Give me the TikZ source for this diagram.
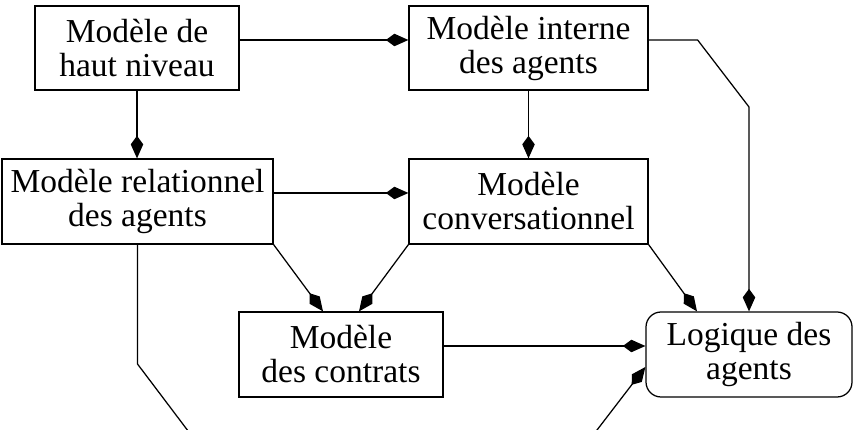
\documentclass[tikz,border=0pt]{standalone}
\usepackage{fontspec}
\setmainfont{Liberation Serif}
\usetikzlibrary{arrows.meta}
\begin{document}
\begin{tikzpicture}[x=0.4pt,y=-0.4pt,
  box/.style={draw, line width=0.5pt, align=center, inner sep=0pt,
    minimum height=34pt, font=\fontsize{13.4}{13.6}\selectfont},
  conn/.style={line width=0.5pt, -{Kite[length=9pt,width=5pt,inset=3.4pt]}}]
\useasboundingbox (0,0) rectangle (857,430);
\node[box, minimum width=81.6pt, minimum height=33.6pt] (haut) at (137,48) {Modèle de\\haut niveau};
\node[box, minimum width=95.6pt, minimum height=33.6pt] (interne) at (528.5,48) {Modèle interne\\des agents};
\node[box, minimum width=108.4pt] (rel) at (137.5,201.5) {Modèle relationnel\\des agents};
\node[box, minimum width=95.6pt] (conv) at (528.5,201.5) {Modèle\\conversationnel};
\node[box, minimum width=81.6pt] (contrats) at (341,354.5) {Modèle\\des contrats};
\node[box, minimum width=82.4pt, rounded corners=6pt] (logique) at (749,354.5) {Logique des\\agents};
\draw[conn] ([yshift=3.2pt]haut.east) -- ([yshift=3.2pt]interne.west);
\draw[conn] (haut.south) -- (haut.south |- rel.north);
\draw[conn] (interne.south) -- (conv.north);
\draw[conn] ([yshift=3.4pt]rel.east) -- ([yshift=3.4pt]conv.west);
\draw[conn] ([yshift=3.2pt]interne.east) -- +(49,0) -- (logique.north |- 0,107) -- (logique.north);
\draw[conn] (rel.south east) -- ([xshift=-7.2pt]contrats.north);
\draw[conn] (conv.south west) -- ([xshift=7.2pt]contrats.north);
\draw[conn] (conv.south east) -- ([xshift=-20.8pt]logique.north);
\draw[conn] ([yshift=3.4pt]contrats.east) -- ([yshift=3.4pt]logique.west);
\begin{scope}
\clip (0,0) rectangle (857,430);
\draw[conn] (rel.south) -- (rel.south |- 0,364) -- (210,460) -- (574,460) -- ([yshift=-5pt]logique.west);
\end{scope}
\end{tikzpicture}
\end{document}
